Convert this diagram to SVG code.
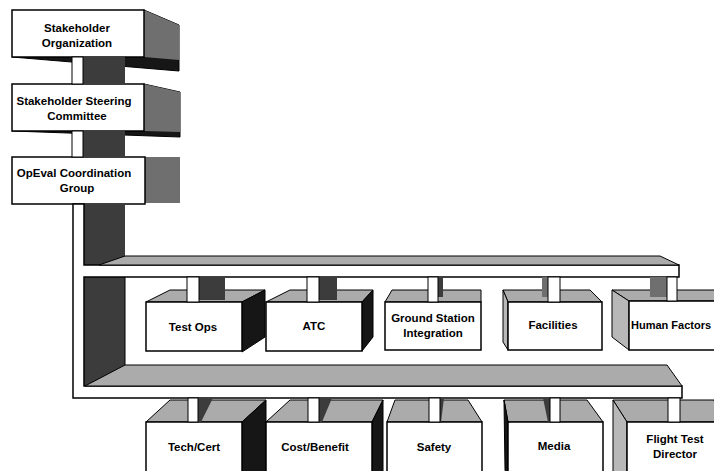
<svg xmlns="http://www.w3.org/2000/svg" width="714" height="471" viewBox="0 0 714 471">
<defs>
<style>
.bg{fill:#fff}
.box{fill:#fff;stroke:#000;stroke-width:1.5}
.g{fill:#ababab;stroke:#000;stroke-width:1}
.gl{fill:#b8b8b8;stroke:#000;stroke-width:1}
.d{fill:#3c3c3c}
.k{fill:#161616;stroke:#000;stroke-width:1}
.m{fill:#6f6f6f}
.stem{fill:#fff;stroke:#000;stroke-width:1}
.frame{fill:#fff;stroke:#000;stroke-width:1.5;stroke-linejoin:miter}
.lbl{font-family:"Liberation Sans",Arial,sans-serif;font-weight:bold;font-size:11.5px;text-anchor:middle;fill:#000}
.lbs{font-family:"Liberation Sans",Arial,sans-serif;font-weight:bold;font-size:11px;text-anchor:start;fill:#000}
</style>
</defs>
<rect class="bg" x="0" y="0" width="714" height="471"/>

<g id="n-stakeholder-org">
<polygon class="k" points="144,10 179,25 179,71 12,57"/>
<polygon class="m" points="144,10 179,25 179,60 144,57"/>
<rect class="box" x="12" y="10" width="132" height="47"/>
<text class="lbl" x="77" y="32">Stakeholder</text>
<text class="lbl" x="77" y="47">Organization</text>
</g>

<g id="n-steering">
<polygon class="k" points="144,84 180,92 180,137 12,131"/>
<polygon class="m" points="144,84 180,92 180,132 144,131"/>
<rect class="box" x="12" y="84" width="132" height="47"/>
<text class="lbl" x="74" y="105">Stakeholder Steering</text>
<text class="lbl" x="77" y="120">Committee</text>
</g>

<g id="n-opeval">
<rect class="m" x="145" y="157" width="35" height="46"/>
<rect class="box" x="12" y="157" width="133" height="47"/>
<text class="lbl" x="74" y="177">OpEval Coordination</text>
<text class="lbl" x="77" y="192">Group</text>
</g>

<g id="n-testops">
<polygon class="g" points="146,302 170,290 265,290 242,302"/>
<polygon class="k" points="242,302 265,290 265,337 242,352"/>
<rect class="box" x="146" y="302" width="96" height="49"/>
<text class="lbl" x="193" y="331">Test Ops</text>
</g>

<g id="n-atc">
<polygon class="g" points="266,302 290,290 373,290 362,302"/>
<polygon class="k" points="362,302 373,290 373,337 362,351"/>
<rect class="box" x="266" y="302" width="96" height="49"/>
<text class="lbl" x="314" y="330">ATC</text>
</g>

<g id="n-gsi">
<polygon class="g" points="385,302 392,290 481,290 481,302"/>
<rect class="box" x="385" y="302" width="96" height="48"/>
<text class="lbl" x="433" y="322">Ground Station</text>
<text class="lbl" x="433" y="337">Integration</text>
</g>

<g id="n-facilities">
<polygon class="g" points="503,290 590,290 602,302 508,302"/>
<polygon class="gl" points="503,290 508,302 508,350 503,342"/>
<rect class="box" x="508" y="302" width="94" height="48"/>
<text class="lbl" x="553" y="329">Facilities</text>
</g>

<g id="n-humanfactors">
<polygon class="g" points="612,290 720,290 720,301 629,301"/>
<polygon class="gl" points="612,290 629,301 629,350 612,337"/>
<rect class="box" x="629" y="301" width="95" height="49"/>
<text class="lbs" x="631" y="329">Human Factors</text>
</g>

<g id="n-techcert">
<polygon class="g" points="146,422 170,400 266,400 242,422"/>
<polygon class="k" points="242,422 266,400 266,480 242,480"/>
<rect class="box" x="146" y="422" width="96" height="60"/>
<text class="lbl" x="194" y="451">Tech/Cert</text>
</g>

<g id="n-costbenefit">
<polygon class="g" points="266,422 290,400 383,400 372,422"/>
<polygon class="k" points="372,422 383,400 383,480 372,480"/>
<rect class="box" x="266" y="422" width="106" height="60"/>
<text class="lbl" x="315" y="451">Cost/Benefit</text>
</g>

<g id="n-safety">
<polygon class="g" points="387,422 395,400 468,400 482,422"/>
<rect class="box" x="387" y="422" width="95" height="60"/>
<text class="lbl" x="434" y="451">Safety</text>
</g>

<g id="n-media">
<polygon class="g" points="508,422 504,400 587,400 603,422"/>
<polygon class="k" points="504,400 508,422 508,480 505,470"/>
<rect class="box" x="508" y="422" width="95" height="60"/>
<text class="lbl" x="554" y="450">Media</text>
</g>

<g id="n-flighttest">
<polygon class="g" points="613,400 714,400 720,422 627,422"/>
<polygon class="gl" points="613,400 627,422 627,480 613,480"/>
<rect class="box" x="627" y="422" width="95" height="60"/>
<text class="lbl" x="675" y="443">Flight Test</text>
<text class="lbl" x="675" y="458">Director</text>
</g>

<g id="connectors">
<rect class="d" x="83" y="57" width="42" height="27"/>
<rect class="stem" x="72" y="57" width="11" height="27"/>
<rect class="d" x="83" y="131" width="42" height="26"/>
<rect class="stem" x="72" y="131" width="11" height="26"/>
<rect class="d" x="84" y="204" width="41" height="62"/>
<rect class="d" x="84" y="276" width="41" height="111"/>
<path class="frame" d="M73,204 H84 V265 H679 V277 H84 V386 H682 V398 H73 Z"/>
<polygon class="g" points="99,265 125,256 660,256 679,265"/>
<polygon class="g" points="85,386 125,365 667,365 682,386"/>
<line x1="125" y1="277" x2="125" y2="365" stroke="#000" stroke-width="1"/>

<rect class="d" x="199" y="277" width="26" height="23"/>
<rect class="stem" x="187" y="277" width="12" height="25"/>
<rect class="d" x="319" y="277" width="18" height="23"/>
<rect class="stem" x="307" y="277" width="12" height="25"/>
<rect class="d" x="438" y="277" width="5" height="20"/>
<rect class="stem" x="428" y="277" width="10" height="25"/>
<rect class="m" x="542" y="277" width="6" height="20"/>
<rect class="stem" x="548" y="277" width="12" height="25"/>
<rect class="m" x="650" y="277" width="17" height="20"/>
<rect class="stem" x="667" y="277" width="10" height="24"/>

<polygon class="d" points="198,398 213,398 201,422 198,422"/>
<rect class="stem" x="188" y="398" width="10" height="24"/>
<polygon class="d" points="319,398 332,398 322,422 319,422"/>
<rect class="stem" x="308" y="398" width="11" height="24"/>
<polygon class="d" points="440,398 444,398 441,422 440,422"/>
<rect class="stem" x="429" y="398" width="11" height="24"/>
<polygon class="d" points="543,398 550,398 550,422 548,422"/>
<rect class="stem" x="550" y="398" width="10" height="24"/>
<rect class="stem" x="668" y="398" width="12" height="24"/>
</g>
</svg>
